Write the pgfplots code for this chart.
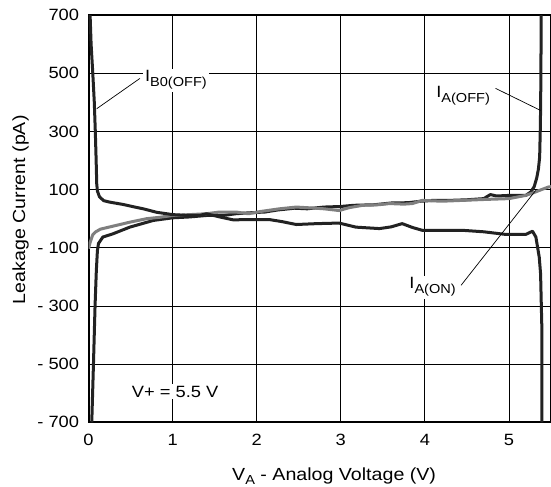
\documentclass[border=0pt]{standalone}
\usepackage{pgfplots}
\pgfplotsset{compat=1.18}
\usepackage{fontspec}
\setmainfont[FakeStretch=1.12]{Liberation Sans}
\definecolor{cblack}{HTML}{222222}
\definecolor{cgray}{HTML}{7F7F7F}
\begin{document}
\begin{tikzpicture}
\begin{axis}[name=ax, width=462pt, height=407pt, scale only axis,
 xmin=0, xmax=5.5, ymin=-700, ymax=700,
 xtick={0,1,2,3,4,5}, ytick={-700,-500,-300,-100,100,300,500,700},
 yticklabels={- 700,- 500,- 300,- 100,100,300,500,700},
 grid=major, major grid style={black, line width=0.9pt},
 axis line style={black, line width=2pt},
 major tick length=0pt,
 tick label style={font=\fontsize{16.3}{19}\selectfont},
 /pgf/number format/assume math mode=true,
 xticklabel style={yshift=-8pt},
 yticklabel style={xshift=-6pt},
 xlabel={V\raisebox{-4pt}{\fontsize{13}{13}\selectfont A} - Analog Voltage (V)},
 ylabel={Leakage Current (pA)},
 label style={font=\fontsize{17.5}{20}\selectfont},
 xlabel style={at={(rel axis cs:0.531,0)}, anchor=base, yshift=-58pt},
 ylabel style={at={(rel axis cs:0,0.522)}, anchor=base, yshift=63.5pt},
 clip=true,
]
\addplot[color=cblack, line width=3pt, line join=round] coordinates {
(0.038,-700) (0.058,-500) (0.077,-300) (0.092,-180) (0.105,-110) (0.118,-85) (0.17,-63) (0.29,-52) (0.49,-29) (0.77,-6) (1.0,3) (1.2,6) (1.4,11) (1.6,11) (1.75,17) (1.9,20) (2.1,23) (2.25,30) (2.45,36) (2.6,34) (2.8,40) (3.0,42) (3.15,46) (3.4,48) (3.6,54) (3.8,55) (3.95,60) (4.1,63) (4.3,63) (4.5,65) (4.7,69) (4.78,83) (4.85,78) (5.0,80) (5.2,80) (5.26,92) (5.3,110) (5.33,140) (5.35,170) (5.365,212) (5.372,300) (5.376,372) (5.38,500) (5.383,700)
};
\addplot[color=cgray, line width=3pt, line join=round] coordinates {
(0.0,-103) (0.02,-80) (0.05,-55) (0.08,-46) (0.14,-36) (0.3,-25) (0.49,-12) (0.69,0) (0.85,5) (1.0,11) (1.2,14) (1.4,17) (1.56,23) (1.75,23) (1.9,17) (2.05,25) (2.27,34) (2.47,40) (2.65,37) (2.8,34) (2.98,28) (3.1,38) (3.26,46) (3.45,48) (3.58,52) (3.75,50) (3.85,52) (3.97,63) (4.2,60) (4.45,63) (4.7,66) (5.0,69) (5.2,80) (5.3,90) (5.36,97) (5.47,109) (5.5,110)
};
\addplot[color=cblack, line width=3pt, line join=round] coordinates {
(0.018,700) (0.03,600) (0.05,500) (0.068,400) (0.08,300) (0.09,200) (0.097,120) (0.105,95) (0.13,75) (0.18,62) (0.25,57) (0.41,49) (0.55,40) (0.65,34) (0.81,22) (1.0,14) (1.2,11) (1.32,11) (1.4,17) (1.56,6) (1.72,-4) (1.9,-3) (2.15,-3) (2.3,-10) (2.47,-20) (2.71,-17) (2.98,-15) (3.18,-29) (3.46,-34) (3.6,-28) (3.73,-17) (3.85,-30) (3.97,-40) (4.45,-40) (4.7,-45) (4.96,-54) (5.2,-54) (5.28,-43) (5.32,-63) (5.36,-132) (5.376,-189) (5.385,-300) (5.39,-361) (5.39,-700)
};
\draw[black, line width=0.7pt] (axis cs:0.097,378) -- (axis cs:0.61,482);
\draw[black, line width=0.7pt] (axis cs:4.84,448) -- (axis cs:5.376,372);
\draw[black, line width=0.7pt] (axis cs:4.43,-229) -- (axis cs:5.317,97);
\node[fill=white, inner sep=2pt, anchor=base west, font=\fontsize{16.3}{19}\selectfont] at (axis cs:0.646,470) {I\raisebox{-5pt}{\fontsize{13}{13}\selectfont B0(OFF)}};
\node[fill=white, inner sep=2pt, anchor=base west, font=\fontsize{16.3}{19}\selectfont] at (axis cs:4.11,418) {I\raisebox{-5pt}{\fontsize{13}{13}\selectfont A(OFF)}};
\node[fill=white, inner sep=2pt, anchor=base west, font=\fontsize{16.3}{19}\selectfont] at (axis cs:3.79,-241) {I\raisebox{-5pt}{\fontsize{13}{13}\selectfont A(ON)}};
\node[fill=white, inner sep=2pt, anchor=base west, font=\fontsize{16.3}{19}\selectfont] at (axis cs:0.49,-613) {V+ = 5.5 V};
\end{axis}
\pgfresetboundingbox
\path[use as bounding box] ([xshift=-88.5pt,yshift=-64pt]ax.south west) rectangle ([yshift=15pt]ax.north east);
\end{tikzpicture}
\end{document}
